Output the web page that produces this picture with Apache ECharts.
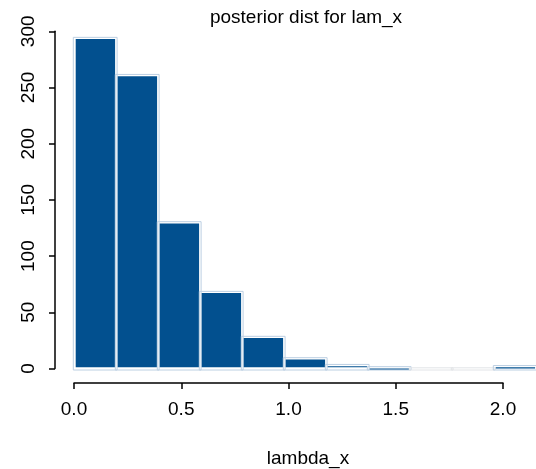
<!DOCTYPE html>
<html><head><meta charset="utf-8">
<script src="https://cdn.jsdelivr.net/npm/echarts@6/dist/echarts.min.js"></script>
<style>html,body{margin:0;padding:0;background:#fff}#c{width:536px;height:469px}</style>
</head><body><div id="c"></div>
<script>
// histogram bins (lambda_x) and counts
const binLeft  = [0.0, 0.2, 0.4, 0.6, 0.8, 1.0, 1.2, 1.4, 1.6, 1.8, 2.0];
const binRight = [0.2, 0.4, 0.6, 0.8, 1.0, 1.2, 1.4, 1.6, 1.8, 2.0, 2.2];
const counts   = [294, 261, 130, 68, 28, 9, 3, 1, 0, 0, 2];
const yTickValues = [0, 50, 100, 150, 200, 250, 300];
const xTickValues = [0.0, 0.5, 1.0, 1.5, 2.0];
const xTickLabels = ['0.0', '0.5', '1.0', '1.5', '2.0'];
const mainTitle = 'posterior dist for lam_x';
const xTitle = 'lambda_x';

const FONT = '"Liberation Sans", Arial, Helvetica, sans-serif';
const chart = echarts.init(document.getElementById('c'), null, {renderer: 'canvas'});
const data = binLeft.map((b, i) => [b, binRight[i], counts[i]]);

const option = {
  animation: false,
  backgroundColor: '#fff',
  title: [
    {text: mainTitle, left: 306, top: 8.5, textAlign: 'center', padding: 0,
     textStyle: {fontFamily: FONT, fontSize: 19, fontWeight: 'normal', color: '#000'}},
    {text: xTitle, left: 308, top: 449, textAlign: 'center', padding: 0,
     textStyle: {fontFamily: FONT, fontSize: 19, fontWeight: 'normal', color: '#000'}}
  ],
  grid: [
    {left: 74, top: 31.3, width: 471.9, height: 337.2},
    {left: 74, top: 31.3, width: 429, height: 337.2}
  ],
  xAxis: [
    {gridIndex: 0, type: 'value', min: 0, max: 2.2, show: false},
    {gridIndex: 1, type: 'value', min: 0, max: 2, interval: 0.5, offset: 14.5,
     axisLine: {show: true, onZero: false, lineStyle: {color: '#000', width: 1.5}},
     axisTick: {show: true, length: 6, lineStyle: {color: '#000', width: 1.5}},
     splitLine: {show: false},
     axisLabel: {margin: 17, fontFamily: FONT, fontSize: 19, color: '#000',
       formatter: v => { const i = xTickValues.findIndex(t => Math.abs(t - v) < 1e-9); return i >= 0 ? xTickLabels[i] : ''; }}}
  ],
  yAxis: [
    {gridIndex: 0, type: 'value', min: 0, max: 300, interval: 50, offset: 19,
     axisLine: {show: true, onZero: false, lineStyle: {color: '#000', width: 1.5}},
     axisTick: {show: true, length: 6, lineStyle: {color: '#000', width: 1.5}},
     splitLine: {show: false},
     axisLabel: {rotate: 90, margin: 17, fontFamily: FONT, fontSize: 19, color: '#000',
       formatter: v => (yTickValues.indexOf(v) >= 0 ? String(v) : '')}},
    {gridIndex: 1, type: 'value', min: 0, max: 300, show: false}
  ],
  series: [{
    type: 'custom',
    xAxisIndex: 0, yAxisIndex: 0,
    clip: false,
    data: data,
    renderItem: function (params, api) {
      const p0 = api.coord([api.value(0), 0]);
      const p1 = api.coord([api.value(1), api.value(2)]);
      const x0 = p0[0], x1 = p1[0], yb = p0[1], yt = p1[1];
      const h = yb - yt;
      const children = [];
      children.push({type: 'rect',
        shape: {x: x0 - 0.7, y: yt - 0.7, width: (x1 - x0) + 1.8, height: h + 2.2},
        style: {fill: 'none', stroke: h > 0.5 ? '#bccfe2' : '#e2e4e7', lineWidth: 1}});
      if (h > 0.5) {
        children.push({type: 'rect',
          shape: {x: x0 + 1.7, y: yt + 1.0, width: (x1 - x0) - 2.6, height: Math.max(h - 2.2, 1.2)},
          style: {fill: '#02508F'}});
      }
      return {type: 'group', children: children};
    }
  }]
};
chart.setOption(option);
</script>
</body></html>
